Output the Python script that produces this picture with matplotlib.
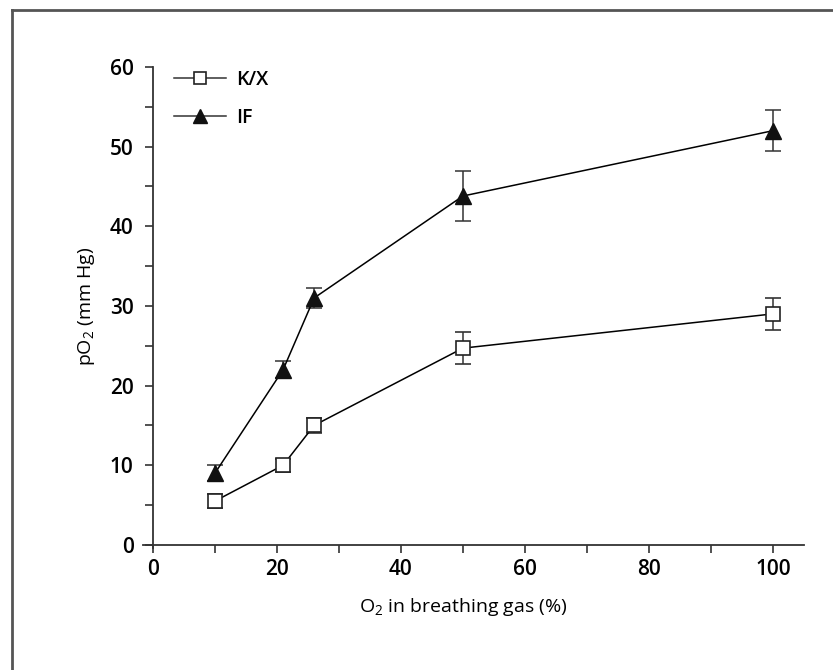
import matplotlib
matplotlib.use("Agg")
import matplotlib.pyplot as plt
from matplotlib.lines import Line2D
from matplotlib.ticker import MultipleLocator

o2_percent = [10, 21, 26, 50, 100]
kx_po2 = [5.5, 10.0, 15.0, 24.7, 29.0]
kx_err = [0.9, 0.8, 0.9, 2.0, 2.0]
if_po2 = [9.0, 22.0, 31.0, 43.8, 52.0]
if_err = [1.0, 1.1, 1.2, 3.1, 2.6]
series_labels = ['K/X', 'IF']

plt.rcParams['font.family'] = ['Open Sans', 'DejaVu Sans']
plt.rcParams['font.weight'] = 600
plt.rcParams['mathtext.default'] = 'regular'

fig = plt.figure(figsize=(8.33, 6.7), dpi=100)
ax = fig.add_axes([0.1717, 0.182, 0.965 - 0.1717, 0.9 - 0.182])

kx_style = dict(marker='s', ms=10.5, mfc='white', mec='#222222', mew=1.2)
if_style = dict(marker='^', ms=12, mfc='#111111', mec='#111111')

ax.errorbar(o2_percent, kx_po2, yerr=kx_err, color='black', lw=1.1,
            ecolor='#333333', elinewidth=1.1, capsize=6, capthick=1.1,
            zorder=3, **kx_style)
ax.errorbar(o2_percent, if_po2, yerr=if_err, color='black', lw=1.1,
            ecolor='#333333', elinewidth=1.1, capsize=6, capthick=1.1,
            zorder=3, **if_style)

ax.set_xlim(-1.6, 105)
ax.set_ylim(-0.4, 60)
for s in ['top', 'right']:
    ax.spines[s].set_visible(False)
ax.spines['left'].set_position(('data', 0))
ax.spines['bottom'].set_position(('data', 0))
for s in ['left', 'bottom']:
    ax.spines[s].set_linewidth(1.3)
    ax.spines[s].set_color('#333333')

ax.xaxis.set_major_locator(MultipleLocator(20))
ax.xaxis.set_minor_locator(MultipleLocator(10))
ax.yaxis.set_major_locator(MultipleLocator(10))
ax.yaxis.set_minor_locator(MultipleLocator(5))
ax.tick_params(which='both', direction='out', length=6, width=1.2, color='#333333',
               labelsize=15, labelcolor='black')
ax.tick_params(axis='x', which='both', pad=4)
ax.tick_params(axis='y', which='both', pad=8)
ax.set_xticks([0, 20, 40, 60, 80, 100])

ax.set_xlabel('O$_2$ in breathing gas (%)', fontsize=14)
ax.set_ylabel('pO$_2$ (mm Hg)', fontsize=14)
ax.xaxis.set_label_coords((50 + 1.6) / 106.6, -0.1)
ax.yaxis.set_label_coords(-0.07, (30 + 0.4) / 60.4)

handles = [Line2D([], [], color='#333333', lw=1.1, ms=9, mfc='white', mec='#222222',
                  mew=1.2, marker='s'),
           Line2D([], [], color='#333333', lw=1.1, ms=10, mfc='#111111', mec='#111111',
                  marker='^')]
leg = ax.legend(handles, series_labels, loc='upper left', bbox_to_anchor=(0.02, 1.03),
                frameon=False, fontsize=14, handlelength=2.7, labelspacing=0.9,
                handletextpad=0.5)

# outer frame of the figure
fig.add_artist(Line2D([0.0144, 0.0144], [0.985, 0.0], transform=fig.transFigure,
                      color='#555555', lw=2))
fig.add_artist(Line2D([0.0144, 1.0], [0.985, 0.985], transform=fig.transFigure,
                      color='#555555', lw=2))

fig.savefig('out.png', dpi=100)
